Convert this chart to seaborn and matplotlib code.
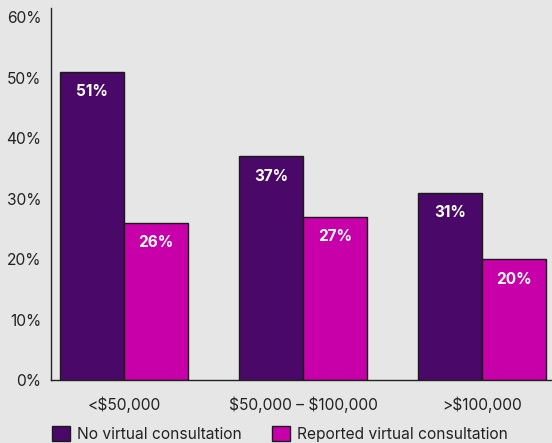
import matplotlib
matplotlib.use("Agg")
import matplotlib.pyplot as plt
import seaborn as sns
import pandas as pd

income_groups = ["<$50,000", "$50,000 – $100,000", ">$100,000"]
series_names = ["No virtual consultation", "Reported virtual consultation"]
no_virtual = [51, 37, 31]
reported_virtual = [26, 27, 20]
y_ticks = [0, 10, 20, 30, 40, 50, 60]

df = pd.DataFrame({
    "group": income_groups * 2,
    "series": [series_names[0]] * 3 + [series_names[1]] * 3,
    "value": no_virtual + reported_virtual,
})

bg = "#e6e6e6"
palette = {series_names[0]: "#4a0868", series_names[1]: "#c800aa"}

sns.set_theme(style="white")
plt.rcParams["font.family"] = ["Inter", "DejaVu Sans"]
plt.rcParams["text.parse_math"] = False

fig = plt.figure(figsize=(5.52, 4.43), dpi=100, facecolor=bg)
ax = fig.add_axes([0.0924, 0.142, 0.9076, 0.840], facecolor=bg)

sns.barplot(data=df, x="group", y="value", hue="series", order=income_groups,
            hue_order=series_names, palette=palette, width=0.715,
            edgecolor="#1a1a1a", linewidth=1.0, saturation=1, ax=ax)

for container in ax.containers:
    for bar in container:
        h = bar.get_height()
        ax.annotate(f"{h:.0f}%", (bar.get_x() + bar.get_width() / 2, h),
                    xytext=(0, -14.5), textcoords="offset points",
                    ha="center", va="center", color="white",
                    fontsize=11, fontweight="bold")

ax.set_xlim(-0.408, 2.39)
ax.set_ylim(0, 61.5)
ax.set_yticks(y_ticks)
ax.set_yticklabels([f"{t}%" for t in y_ticks])
ax.set_xlabel("")
ax.set_ylabel("")
ax.tick_params(axis="both", length=0, labelsize=11.2, colors="#222222")
ax.tick_params(axis="y", pad=7)
ax.tick_params(axis="x", pad=12)

for side in ["top", "right"]:
    ax.spines[side].set_visible(False)
for side in ["left", "bottom"]:
    ax.spines[side].set_color("#222222")
    ax.spines[side].set_linewidth(1.0)

leg = ax.legend(loc="center", bbox_to_anchor=(0.457, -0.145), ncol=2,
                frameon=False, fontsize=11.2, handlelength=1.15, handleheight=1.15,
                handletextpad=0.5, columnspacing=1.9, borderaxespad=0)
for txt in leg.get_texts():
    txt.set_color("#222222")

fig.savefig("out.png", dpi=100, facecolor=bg)
